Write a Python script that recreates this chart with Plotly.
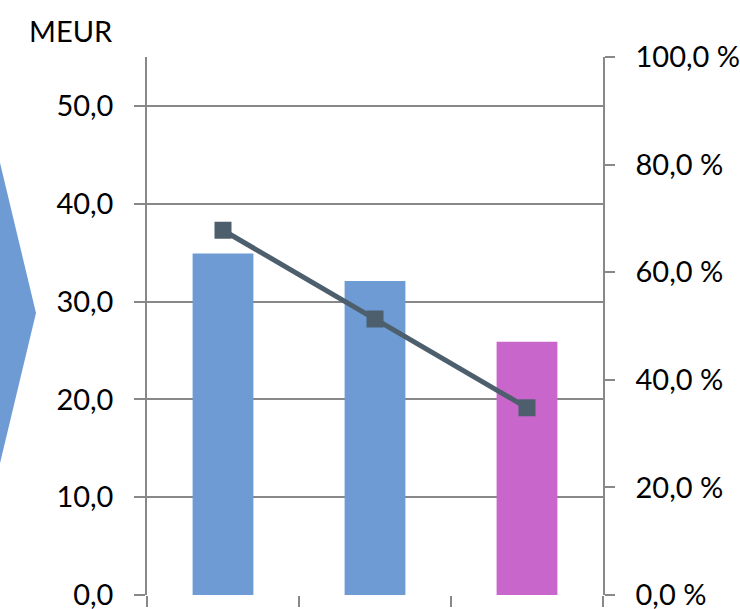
import plotly.graph_objects as go

categories = ["1", "2", "3"]
bar_values = [34.9, 32.1, 25.9]
bar_colors = ["#6F9BD4", "#6F9BD4", "#C866CC"]
pct_values = [67.8, 51.3, 34.8]
left_title = "MEUR"

W, H = 740, 609
L, R, T, B = 147, 603, 57, 595
pw, ph = R - L, B - T

def px(x):
    return (x - L) / pw

def py(y):
    return 1 - (y - T) / ph

fig = go.Figure()
fig.add_trace(go.Bar(x=categories, y=bar_values, marker=dict(color=bar_colors, line=dict(width=0)),
                     width=0.4, yaxis="y"))
fig.add_trace(go.Scatter(x=categories, y=pct_values, yaxis="y2", mode="lines+markers",
                         line=dict(color="#4D5E6C", width=5),
                         marker=dict(symbol="square", size=17, color="#4D5E6C")))

font = dict(family="Lato, Open Sans, sans-serif", size=29, color="#000000")
axcol = "#888888"

arrow = "M {x0},{y0} L {x1},{y1} L {x2},{y2} Z".format(
    x0=px(-10), y0=py(121), x1=px(36), y1=py(313), x2=px(-10), y2=py(505))

fig.update_layout(
    width=W, height=H,
    margin=dict(l=L, r=W - R, t=T, b=H - B, pad=0, autoexpand=False),
    paper_bgcolor="white", plot_bgcolor="white",
    showlegend=False,
    separators=", ",
    font=font,
    xaxis=dict(type="category", showticklabels=False, ticks="outside", tickson="boundaries",
               ticklen=11, tickcolor=axcol, tickwidth=1.5, showline=False, showgrid=False,
               range=[-0.5, 2.5]),
    yaxis=dict(range=[0, 55], tick0=0, dtick=10, tickformat=".1f", showgrid=True,
               gridcolor=axcol, gridwidth=1.5, zeroline=False, showline=True, linecolor=axcol,
               linewidth=1.5, ticks="outside", ticklen=11, tickcolor=axcol, tickwidth=1.5,
               ticklabelstandoff=15, tickfont=font, ticklabeloverflow="allow"),
    yaxis2=dict(range=[0, 100], tick0=0, dtick=20, tickformat=".1f", ticksuffix=" %",
                overlaying="y", side="right", showgrid=False, zeroline=False, showline=True,
                linecolor=axcol, linewidth=1.5, ticks="outside", ticklen=10, tickcolor=axcol,
                tickwidth=1.5, ticklabelstandoff=15, tickfont=font, ticklabeloverflow="allow"),
    shapes=[dict(type="path", xref="paper", yref="paper", path=arrow,
                 fillcolor="#6F9BD4", line=dict(width=0), layer="above")],
    annotations=[dict(text=left_title, xref="paper", yref="paper", x=px(71), y=py(30),
                      xanchor="center", yanchor="middle", showarrow=False, font=font)],
)

fig.write_html("out.html", post_script="document.body.style.margin='0';",
               config={"displayModeBar": False})
